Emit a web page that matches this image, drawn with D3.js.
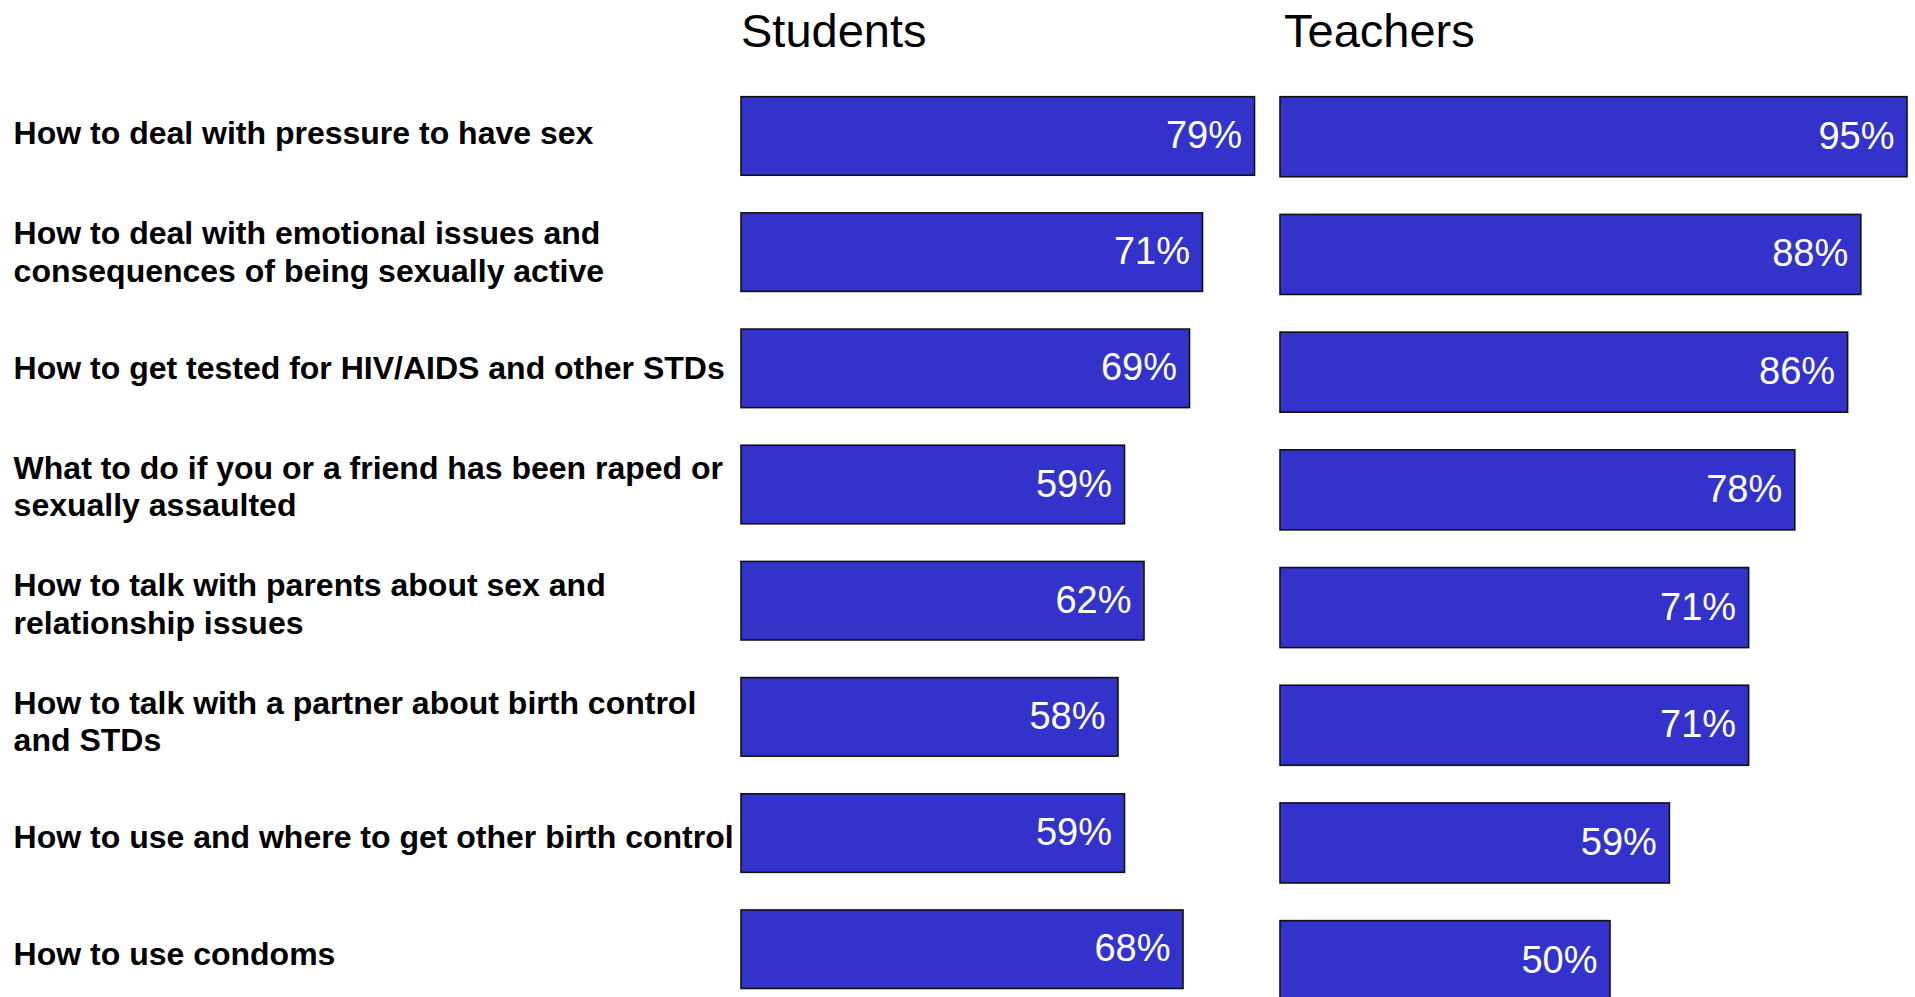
<!DOCTYPE html>
<html>
<head>
<meta charset="utf-8">
<title>Students vs Teachers</title>
<style>
  body { margin: 0; background: #fff; }
  text { font-family: "Liberation Sans", Arial, sans-serif; }
</style>
</head>
<body>
<script src="https://cdn.jsdelivr.net/npm/d3@7"></script>
<script>
// DATA
var topics = [
  "How to deal with pressure to have sex",
  "How to deal with emotional issues and|consequences of being sexually active",
  "How to get tested for HIV/AIDS and other STDs",
  "What to do if you or a friend has been raped or|sexually assaulted",
  "How to talk with parents about sex and|relationship issues",
  "How to talk with a partner about birth control|and STDs",
  "How to use and where to get other birth control",
  "How to use condoms"
];
var students = [79, 71, 69, 59, 62, 58, 59, 68];
var teachers = [95, 88, 86, 78, 71, 71, 59, 50];
var panelTitles = ["Students", "Teachers"];

var W = 1915, H = 997;

var svg = d3.select("body").append("svg")
  .attr("width", W)
  .attr("height", H);

svg.append("rect").attr("width", W).attr("height", H).attr("fill", "#fff");

// each panel has its own geometry (as in the source slide)
var panels = [
  { title: panelTitles[0], values: students, titleX: 741,
    x: d3.scaleLinear().domain([0, 100]).range([741, 1391]),
    y: d3.scaleBand().domain(topics).range([96.7, 988.5]).paddingInner(0.324).paddingOuter(0) },
  { title: panelTitles[1], values: teachers, titleX: 1284,
    x: d3.scaleLinear().domain([0, 100]).range([1280, 1940]),
    y: d3.scaleBand().domain(topics).range([96.7, 1000.7]).paddingInner(0.32).paddingOuter(0) }
];

panels.forEach(function(p) {
  var g = svg.append("g");

  g.append("text")
    .attr("x", p.titleX)
    .attr("y", 46.7)
    .attr("font-size", 47)
    .attr("fill", "#000")
    .text(p.title);

  var bars = g.selectAll("g.bar")
    .data(topics)
    .enter().append("g")
    .attr("class", "bar");

  bars.append("rect")
    .attr("x", p.x(0))
    .attr("y", function(d) { return p.y(d); })
    .attr("width", function(d, i) { return p.x(p.values[i]) - p.x(0); })
    .attr("height", p.y.bandwidth())
    .attr("fill", "#3333cc")
    .attr("stroke", "#111")
    .attr("stroke-width", 1.6);

  bars.append("text")
    .attr("x", function(d, i) { return p.x(p.values[i]) - 12.5; })
    .attr("y", function(d) { return p.y(d) + p.y.bandwidth() / 2 + 12; })
    .attr("text-anchor", "end")
    .attr("font-size", 38)
    .attr("fill", "#fff")
    .text(function(d, i) { return p.values[i] + "%"; });
});

// row labels (their own spacing, slightly wider than the students bars)
var yl = d3.scalePoint().domain(topics).range([144, 965.1]);
var labels = svg.selectAll("text.topic")
  .data(topics)
  .enter().append("text")
  .attr("class", "topic")
  .attr("font-size", 32)
  .attr("font-weight", "bold")
  .attr("fill", "#000")
  .attr("y", function(d) {
    var n = d.split("|").length;
    return yl(d) - (n - 1) * 17;
  });

labels.selectAll("tspan")
  .data(function(d) { return d.split("|"); })
  .enter().append("tspan")
  .attr("x", 13.6)
  .attr("dy", function(d, i) { return i === 0 ? 0 : 37.5; })
  .text(function(d) { return d; });
</script>
</body>
</html>
